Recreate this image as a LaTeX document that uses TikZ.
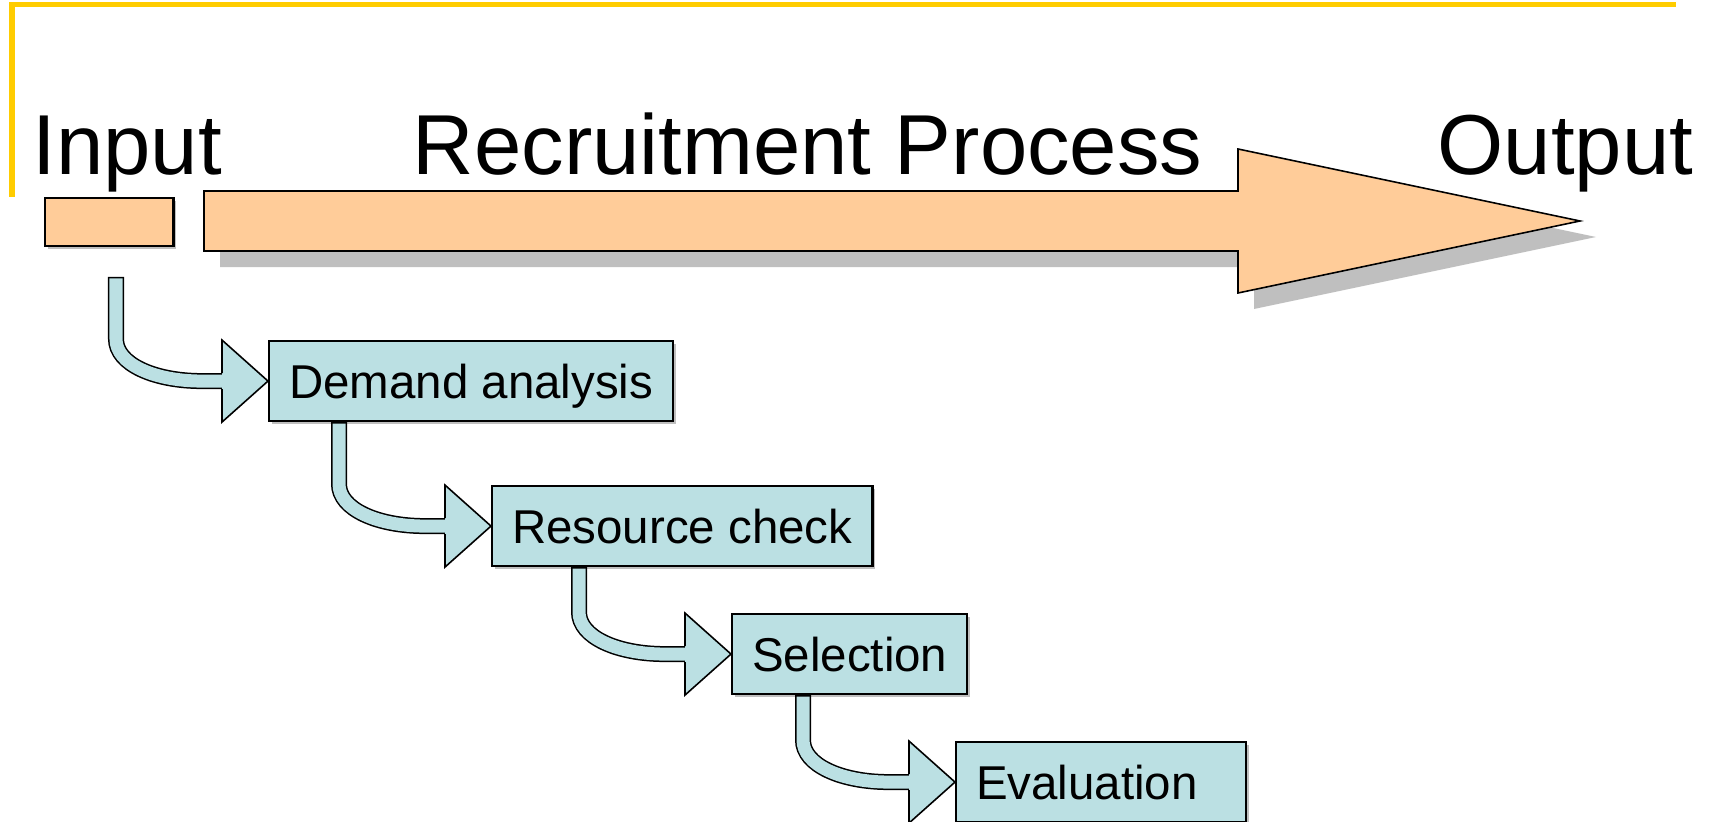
\documentclass[tikz,border=0pt]{standalone}
\usepackage{fontspec}
\setmainfont{Liberation Sans}
\usetikzlibrary{calc,shadows}

\definecolor{procorange}{HTML}{FFCC99}
\definecolor{flowcyan}{HTML}{BBE0E3}
\definecolor{shadowgray}{HTML}{BFBFBF}
\definecolor{frameyellow}{HTML}{FFCC00}

\def\headlen{46}
\def\headhalf{41}
\def\stemback{152}

\begin{document}
\begin{tikzpicture}[x=0.01cm,y=-0.01cm,line join=miter]
    \tikzstyle{title}=[anchor=base west,inner sep=0pt,font=\fontsize{24.2pt}{28pt}\selectfont]
    \tikzstyle{stage}=[rectangle,draw=black,line width=0.6pt,fill=flowcyan,anchor=north west,
        minimum height=0.8cm,inner xsep=0.2cm,text height=9.7pt,text depth=0pt,
        font=\fontsize{13.5pt}{16pt}\selectfont,
        drop shadow={shadow xshift=0.03cm,shadow yshift=-0.03cm,fill=shadowgray,opacity=1}]
    \tikzstyle{inbox}=[rectangle,draw=black,line width=0.7pt,fill=procorange,anchor=north west,
        minimum width=1.28cm,minimum height=0.48cm,inner sep=0pt,
        drop shadow={shadow xshift=0.03cm,shadow yshift=-0.03cm,fill=shadowgray,opacity=1}]
    \tikzstyle{procarrow}=[draw=black,line width=0.45pt,fill=procorange,
        drop shadow={shadow xshift=0.16cm,shadow yshift=-0.16cm,fill=shadowgray,opacity=1}]
    \tikzstyle{stem}=[line width=0.16cm,draw=black,
        postaction={draw=flowcyan,line width=0.13cm,shorten <=0.015cm}]
    \tikzstyle{headline}=[draw=black,line width=0.45pt]

    \useasboundingbox (0,0) rectangle (1716,822);

    % Yellow frame line
    \draw[frameyellow,line width=0.05cm] (12,197) -- (12,5) -- (1676,5);

    % The big process arrow
    \draw[procarrow] (204,191) -- (1238,191) -- (1238,149) -- (1580,221)
        -- (1238,293) -- (1238,251) -- (204,251) -- cycle;

    % Titles
    \node[title] (intitle) at (32,175) {Input};
    \node[title] (proctitle) at (412,175) {Recruitment Process};
    \node[title] (outtitle) at (1437,175) {Output};

    % Input box and the stages
    \node[inbox] (inbox) at (44,197) {};
    \coordinate (instart) at (115,277);
    \node[stage] (demand) at (268,340) {Demand analysis};
    \node[stage] (resource) at (491,485) {Resource check};
    \node[stage] (select) at (731,613) {Selection};
    \node[stage,text width=2.5cm,align=left] (eval) at (955,741) {Evaluation};

    % Bent arrows from one stage to the next
    \foreach \src/\dst in {instart/demand,demand.south/resource,resource.south/select,select.south/eval}{
        \coordinate (bend) at ($(\dst.west)+(-\stemback,0)$);
        \coordinate (base) at ($(\dst.west)+(-\headlen,0)$);
        \draw[stem] (bend |- \src) -- ($(bend)+(0,-42)$)
            .. controls ($(bend)+(0,-17)$) and ($(bend)+(38,0)$) .. ($(bend)+(86,0)$) -- (base);
        \fill[flowcyan] ($(base)+(0,-\headhalf)$) -- (\dst.west) -- ($(base)+(0,\headhalf)$) -- cycle;
        \draw[headline] ($(base)+(0,-8)$) -- ($(base)+(0,-\headhalf)$) -- (\dst.west)
            -- ($(base)+(0,\headhalf)$) -- ($(base)+(0,8)$);
    }
\end{tikzpicture}
\end{document}
